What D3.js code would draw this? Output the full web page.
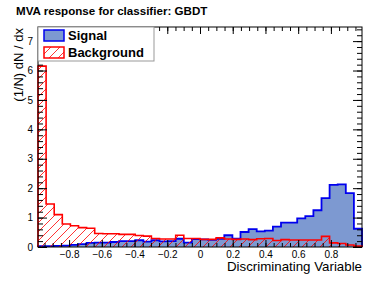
<!DOCTYPE html>
<html>
<head>
<meta charset="utf-8">
<script src="https://cdn.jsdelivr.net/npm/d3@7"></script>
<style>
  body { margin: 0; background: #fff; }
  text { font-family: "Liberation Sans", Arial, Helvetica, sans-serif; }
</style>
</head>
<body>
<div id="chart"></div>
<script>
// histogram range and binning
var xMin = -0.99, xMax = 0.99, nBins = 40;

// normalised MVA response, 40 bins from xMin to xMax
var signalValues = [
  0.03, 0.03, 0.04, 0.05, 0.07, 0.10, 0.14, 0.15, 0.15, 0.17,
  0.20, 0.20, 0.23, 0.18, 0.23, 0.19, 0.20, 0.28, 0.15, 0.27,
  0.26, 0.24, 0.28, 0.40, 0.28, 0.51, 0.61, 0.53, 0.56, 0.69,
  0.83, 0.83, 0.97, 1.05, 1.25, 1.66, 2.11, 2.13, 1.83, 0.62
];
var backgroundValues = [
  6.15, 1.46, 1.10, 0.78, 0.72, 0.66, 0.64, 0.46, 0.45, 0.45,
  0.43, 0.43, 0.39, 0.37, 0.29, 0.27, 0.27, 0.40, 0.29, 0.29,
  0.26, 0.26, 0.31, 0.27, 0.26, 0.27, 0.25, 0.28, 0.29, 0.22,
  0.25, 0.24, 0.24, 0.24, 0.24, 0.36, 0.14, 0.12, 0.07, 0.03
];

var xMajorTicks = [-0.8, -0.6, -0.4, -0.2, 0, 0.2, 0.4, 0.6, 0.8];
var yMajorTicks = [0, 1, 2, 3, 4, 5, 6, 7];
var legendLabels = ['Signal', 'Background'];

var width = 381, height = 281;
var frameL = 38, frameR = 362, frameT = 27, frameB = 247;

var svg = d3.select('#chart').append('svg')
  .attr('width', width)
  .attr('height', height);

var x = d3.scaleLinear().domain([xMin, xMax]).range([frameL, frameR]);
var y = d3.scaleLinear().domain([0, 7.48]).range([frameB, frameT]);

var binW = (xMax - xMin) / nBins;

// hatch pattern for background
var defs = svg.append('defs');
defs.append('pattern')
  .attr('id', 'hatch')
  .attr('patternUnits', 'userSpaceOnUse')
  .attr('width', 9).attr('height', 9)
  .append('path')
  .attr('d', 'M0,9 L9,0 M-2,2 L2,-2 M7,11 L11,7')
  .attr('stroke', '#ff0000')
  .attr('stroke-width', 0.8);

function histPath (values) {
  var p = d3.path();
  p.moveTo(x(xMin), y(0));
  values.forEach(function(v, i) {
    p.lineTo(x(xMin + i * binW), y(v));
    p.lineTo(x(xMin + (i + 1) * binW), y(v));
  });
  p.lineTo(x(xMax), y(0));
  return p.toString();
}

svg.append('rect')
  .attr('x', frameL).attr('y', frameT)
  .attr('width', frameR - frameL).attr('height', frameB - frameT)
  .attr('fill', '#fff');

svg.append('path')
  .attr('d', histPath(signalValues))
  .attr('fill', '#7d99d1')
  .attr('stroke', '#0000ee')
  .attr('stroke-width', 1.8);

svg.append('path')
  .attr('d', histPath(backgroundValues))
  .attr('fill', 'url(#hatch)')
  .attr('stroke', '#ff0000')
  .attr('stroke-width', 1.6);

// axes, ticks pointing inward like ROOT
var fmt = function(d) { return d === 0 ? '0' : d3.format('.1f')(d); };
var xMinor = d3.range(-0.95, 0.96, 0.05);
var yMinor = d3.range(0, 7.45, 0.2);

function addAxis (axis, tx, ty, labels) {
  var g = svg.append('g')
    .attr('transform', 'translate(' + tx + ',' + ty + ')')
    .call(axis);
  g.select('.domain').remove();
  g.selectAll('line').attr('stroke', '#000');
  if (!labels) g.selectAll('text').remove();
  return g;
}

var xb = addAxis(d3.axisBottom(x).tickValues(xMajorTicks).tickSize(-7).tickPadding(4).tickFormat(fmt), 0, frameB, true);
xb.selectAll('text').attr('font-size', 10).attr('fill', '#000');
addAxis(d3.axisBottom(x).tickValues(xMinor).tickSize(-4), 0, frameB, false);
addAxis(d3.axisTop(x).tickValues(xMajorTicks).tickSize(-7), 0, frameT, false);
addAxis(d3.axisTop(x).tickValues(xMinor).tickSize(-4), 0, frameT, false);

var yl = addAxis(d3.axisLeft(y).tickValues(yMajorTicks).tickSize(-9).tickPadding(5), frameL, 0, true);
yl.selectAll('text').attr('font-size', 10).attr('fill', '#000');
addAxis(d3.axisLeft(y).tickValues(yMinor).tickSize(-5), frameL, 0, false);
addAxis(d3.axisRight(y).tickValues(yMajorTicks).tickSize(-9), frameR, 0, false);
addAxis(d3.axisRight(y).tickValues(yMinor).tickSize(-5), frameR, 0, false);

svg.append('rect')
  .attr('x', frameL).attr('y', frameT)
  .attr('width', frameR - frameL).attr('height', frameB - frameT)
  .attr('fill', 'none')
  .attr('stroke', '#000')
  .attr('stroke-width', 1);

// legend
var legend = svg.append('g');
legend.append('rect')
  .attr('x', frameL).attr('y', frameT)
  .attr('width', 116).attr('height', 34)
  .attr('fill', '#fff')
  .attr('stroke', '#999')
  .attr('stroke-width', 1);

var legendItems = legend.selectAll('g.item')
  .data(legendLabels).enter()
  .append('g')
  .attr('class', 'item')
  .attr('transform', function(d, i) { return 'translate(0,' + (i * 17) + ')'; });

legendItems.append('rect')
  .attr('x', 44).attr('y', 30)
  .attr('width', 20).attr('height', 11)
  .attr('fill', function(d, i) { return i === 0 ? '#7d99d1' : 'url(#hatch)'; })
  .attr('stroke', function(d, i) { return i === 0 ? '#0000ee' : '#ff0000'; })
  .attr('stroke-width', 1.5);

legendItems.append('text')
  .attr('x', 68).attr('y', 40)
  .attr('font-size', 13)
  .attr('font-weight', 'bold')
  .text(function(d) { return d; });

// titles
svg.append('text')
  .attr('x', 16).attr('y', 15)
  .attr('font-size', 11.6)
  .attr('font-weight', 'bold')
  .text('MVA response for classifier: GBDT');

svg.append('text')
  .attr('transform', 'translate(23,28) rotate(-90)')
  .attr('text-anchor', 'end')
  .attr('font-size', 13)
  .text('(1/N) dN / dx');

svg.append('text')
  .attr('x', 362).attr('y', 271)
  .attr('text-anchor', 'end')
  .attr('font-size', 13.3)
  .text('Discriminating Variable');
</script>
</body>
</html>
